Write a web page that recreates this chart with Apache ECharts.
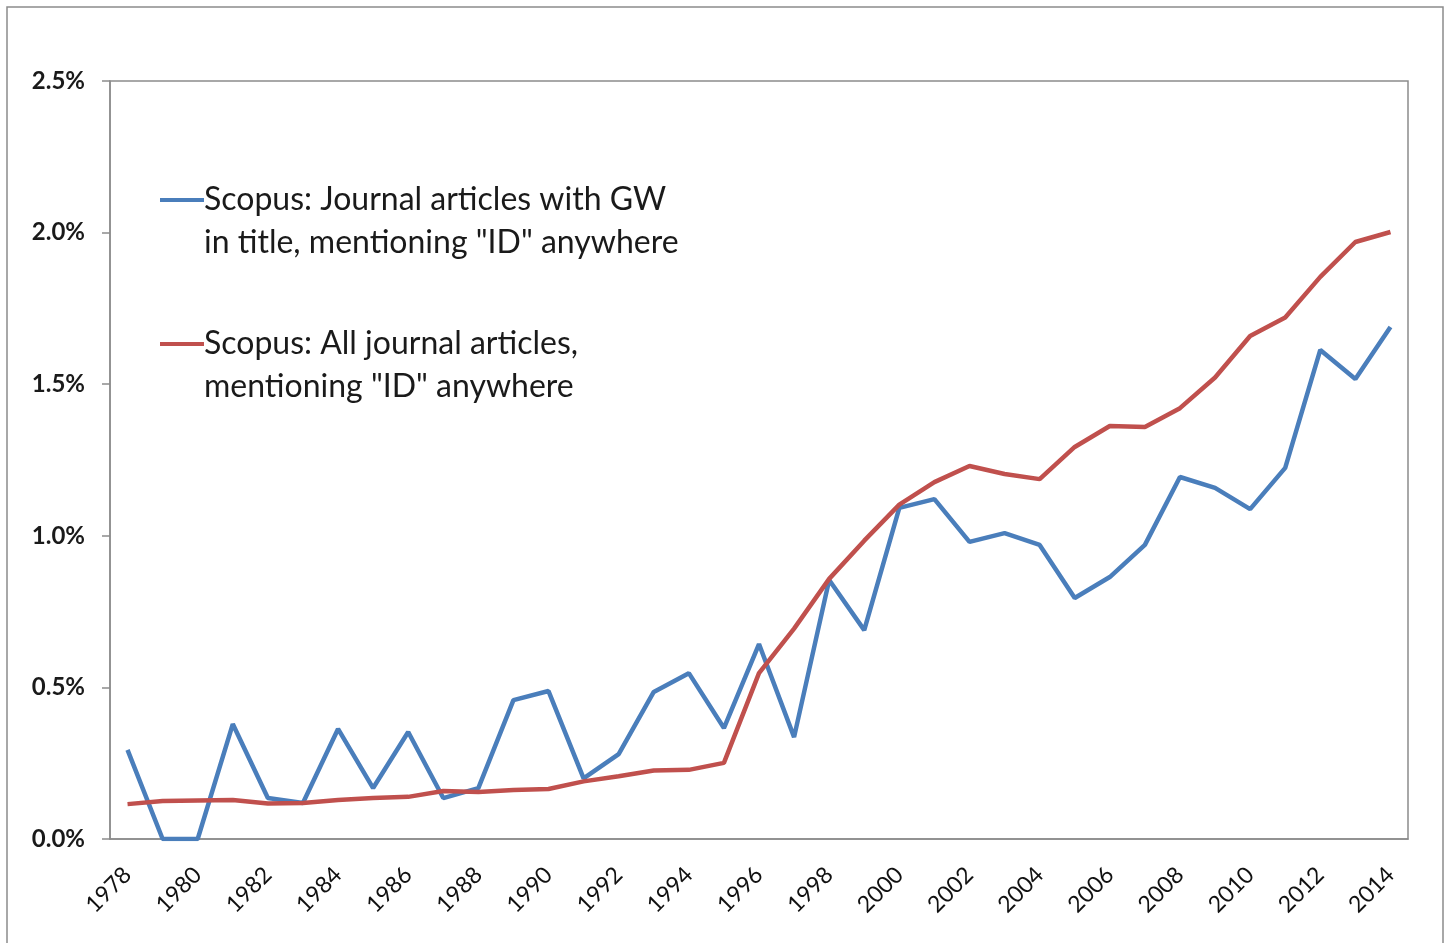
<!DOCTYPE html>
<html>
<head>
<meta charset="utf-8">
<script src="https://cdn.jsdelivr.net/npm/echarts@6/dist/echarts.min.js"></script>
<style>
  html, body { margin: 0; padding: 0; background: #fff; }
  #main { width: 1448px; height: 943px; }
</style>
</head>
<body>
<div id="main"></div>
<script>
// years on the x axis
var years = [];
for (var y = 1978; y <= 2014; y++) years.push(String(y));

// share of articles mentioning "ID" (percent)
var gwTitle = [0.294, 0, 0, 0.379, 0.135, 0.119, 0.363, 0.168, 0.353, 0.135,
    0.168, 0.458, 0.488, 0.200, 0.280, 0.485, 0.547, 0.366, 0.643, 0.336,
    0.854, 0.689, 1.092, 1.121, 0.980, 1.009, 0.970, 0.795, 0.864, 0.970,
    1.194, 1.158, 1.088, 1.224, 1.613, 1.517, 1.689];
var allArticles = [0.115, 0.125, 0.127, 0.129, 0.117, 0.119, 0.129, 0.135, 0.139, 0.158,
    0.155, 0.162, 0.165, 0.190, 0.207, 0.226, 0.228, 0.251, 0.547, 0.694,
    0.858, 0.984, 1.103, 1.177, 1.230, 1.204, 1.187, 1.293, 1.362, 1.359,
    1.421, 1.522, 1.659, 1.720, 1.854, 1.969, 2.002];

var names = ['Scopus: Journal articles with GW\nin title, mentioning "ID" anywhere',
    'Scopus: All journal articles,\nmentioning "ID" anywhere'];

var chart = echarts.init(document.getElementById('main'));

// legend line sits on the first text line
var legendIcon = 'path://M0,0h44v4h-44z M0,46h0.01v0.01h-0.01z';

var option = {
    animation: false,
    textStyle: { fontFamily: 'Lato' },
    graphic: [{
        type: 'rect',
        shape: { x: 7, y: 7, width: 1436, height: 960 },
        style: { fill: 'none', stroke: '#8c8c8c', lineWidth: 1.5 },
        silent: true
    }],
    grid: {
        left: 110, right: 40, top: 81, bottom: 104,
        show: true,
        borderColor: '#8c8c8c',
        borderWidth: 1.5
    },
    legend: {
        orient: 'vertical',
        left: 155,
        top: 173,
        itemGap: 58,
        itemWidth: 44,
        itemHeight: 46,
        icon: legendIcon,
        textStyle: {
            fontFamily: 'Lato',
            fontSize: 32,
            lineHeight: 43,
            color: '#1a1a1a',
            padding: [0, 0, 0, -5]
        },
        data: names
    },
    xAxis: {
        type: 'category',
        data: years,
        boundaryGap: true,
        axisLine: { lineStyle: { color: '#8c8c8c', width: 1.5 } },
        axisTick: { interval: 0, length: 8, lineStyle: { color: '#8c8c8c', width: 1.5 } },
        axisLabel: {
            interval: 1,
            rotate: 45,
            fontSize: 23,
            color: '#111',
            margin: 32
        }
    },
    yAxis: {
        type: 'value',
        min: 0,
        max: 2.5,
        interval: 0.5,
        axisLine: { show: true, lineStyle: { color: '#8c8c8c', width: 1.5 } },
        axisTick: { show: true, length: 8, lineStyle: { color: '#8c8c8c', width: 1.5 } },
        splitLine: { show: false },
        axisLabel: {
            fontSize: 24,
            fontWeight: 'bold',
            color: '#1a1a1a',
            margin: 25,
            formatter: function (v) { return v.toFixed(1) + '%'; }
        }
    },
    series: [
        {
            name: names[0],
            type: 'line',
            data: gwTitle,
            symbol: 'none',
            lineStyle: { color: '#4a7ebb', width: 4.5 },
            itemStyle: { color: '#4a7ebb' }
        },
        {
            name: names[1],
            type: 'line',
            data: allArticles,
            symbol: 'none',
            lineStyle: { color: '#c0504d', width: 4.5 },
            itemStyle: { color: '#c0504d' }
        }
    ]
};
chart.setOption(option);
</script>
</body>
</html>
